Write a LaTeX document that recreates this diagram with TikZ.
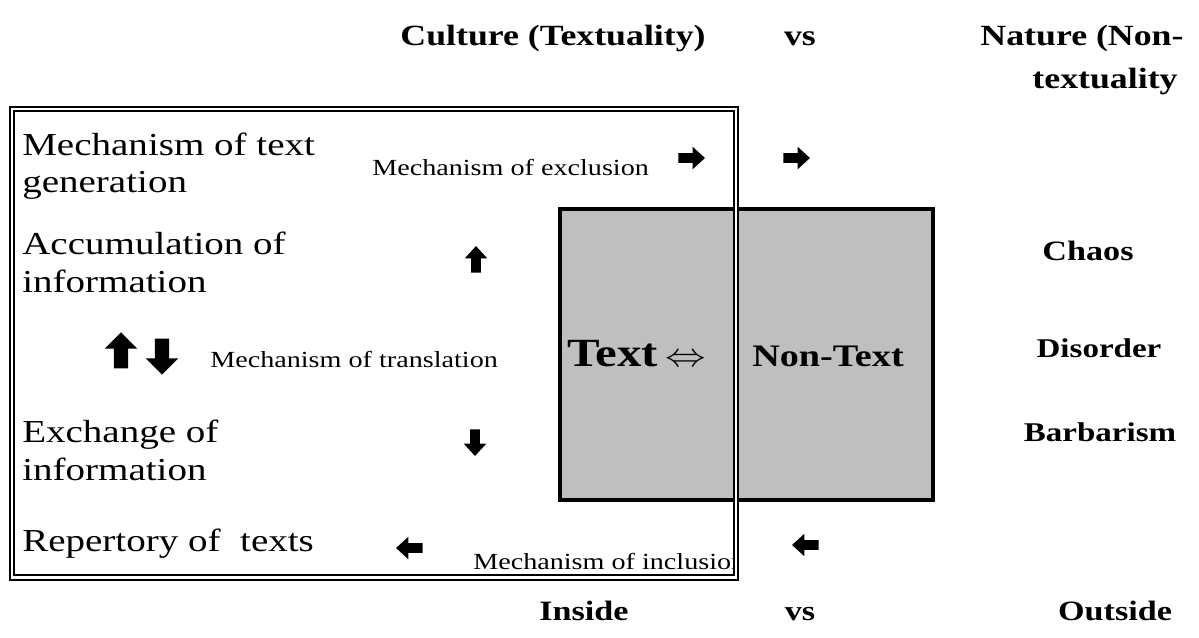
\documentclass[tikz,border=0pt]{standalone}
\usepackage{fontspec}
\setmainfont{Liberation Serif}
\usetikzlibrary{shapes.arrows}
\newcommand\wid[1]{\scalebox{1.22}[1]{#1}}
\tikzset{
  bigtxt/.style={inner sep=0pt, anchor=base west, font=\fontsize{24}{28.5}\selectfont, align=left},
  smalltxt/.style={inner sep=0pt, anchor=base west, font=\fontsize{17.3}{20}\selectfont},
  boldlbl/.style={inner sep=0pt, anchor=base, font=\fontsize{21}{25}\selectfont\bfseries},
  titlelbl/.style={boldlbl, font=\fontsize{22}{26}\selectfont\bfseries},
  blockarrow/.style={single arrow, fill=black, draw=none, minimum height=20pt, inner sep=3.4pt,
     single arrow head extend=4.9pt, single arrow tip angle=85, outer sep=0pt},
  bigarrow/.style={blockarrow, minimum height=27pt, inner sep=5.2pt,
     single arrow head extend=6.8pt, single arrow tip angle=90},
  pointright/.style={shape border rotate=0},
  pointleft/.style={shape border rotate=180},
  pointup/.style={shape border rotate=90},
  pointdown/.style={shape border rotate=270},
}
\begin{document}
\begin{tikzpicture}[x=0.75pt,y=-0.75pt]
\useasboundingbox (0,0) rectangle (1199,637);
% gray box
\node[draw=black, line width=3pt, fill={rgb,255:red,191;green,191;blue,191}, inner sep=0pt,
  minimum width=373*0.75pt, minimum height=291*0.75pt, anchor=north west] (box) at (558,207) {};
% white gap of the frame's double line through the box
\draw[white, line width=3.5pt] (735.8,203) -- (735.8,502);
% double frame
\draw[line width=1.9pt] (10,107) rectangle (738,580);
\draw[line width=0.8pt] (14,111) rectangle (734,575);

% titles
\node[titlelbl] (culture) at (553,45) {\wid{Culture (Textuality)}};
\node[titlelbl] (vstop) at (800,45) {\wid{vs}};
\node[titlelbl] (nature) at (1082,45) {\wid{Nature (Non-}};
\node[titlelbl] (textuality) at (1105,88) {\wid{textuality}};

% left column
\node[bigtxt] (gen) at (22,155) {\wid{Mechanism of text}};
\node[bigtxt] (gen2) at (22,192) {\wid{generation}};
\node[bigtxt] (acc) at (22,254) {\wid{Accumulation of}};
\node[bigtxt] (acc2) at (22,292) {\wid{information}};
\node[bigtxt] (exc) at (22,442) {\wid{Exchange of}};
\node[bigtxt] (exc2) at (22,480) {\wid{information}};
\node[bigtxt] (rep) at (22,551) {\wid{Repertory of\ \ texts}};

% mechanisms
\node[smalltxt] (excl) at (372,175) {\wid{Mechanism of exclusion}};
\node[smalltxt] (transl) at (210,367) {\wid{Mechanism of translation}};
\begin{scope}
\clip (14,111) rectangle (733.5,575);
\node[smalltxt] (incl) at (473,569) {\wid{Mechanism of inclusion}};
\end{scope}

% arrows
\node[blockarrow, pointright] (a1) at (689,158) {};
\node[blockarrow, pointright] (a2) at (794,158) {};
\node[blockarrow, pointup] (a3) at (476,262) {};
\node[bigarrow, pointup] (a4) at (121,354) {};
\node[bigarrow, pointdown] (a5) at (162,353) {};
\node[blockarrow, pointdown] (a6) at (475,440) {};
\node[blockarrow, pointleft] (a7) at (412,548) {};
\node[blockarrow, pointleft] (a8) at (808,545) {};

% box texts
\node[inner sep=0pt, anchor=base west, font=\fontsize{30}{34}\selectfont\bfseries] (text) at (567,366) {\wid{Text\,$\Leftrightarrow$}};
\node[inner sep=0pt, anchor=base west, font=\fontsize{23.5}{27}\selectfont\bfseries] (nontext) at (752,366) {\wid{Non-Text}};

% right column
\node[boldlbl] (chaos) at (1088,260) {\wid{Chaos}};
\node[boldlbl, font=\fontsize{20.3}{24}\selectfont\bfseries] (disorder) at (1099,357) {\wid{Disorder}};
\node[boldlbl, font=\fontsize{20.3}{24}\selectfont\bfseries] (barb) at (1100,441) {\wid{Barbarism}};

% bottom
\node[boldlbl] (inside) at (584,620) {\wid{Inside}};
\node[boldlbl] (vsbot) at (800,620) {\wid{vs}};
\node[boldlbl] (outside) at (1115,620) {\wid{Outside}};
\end{tikzpicture}
\end{document}
